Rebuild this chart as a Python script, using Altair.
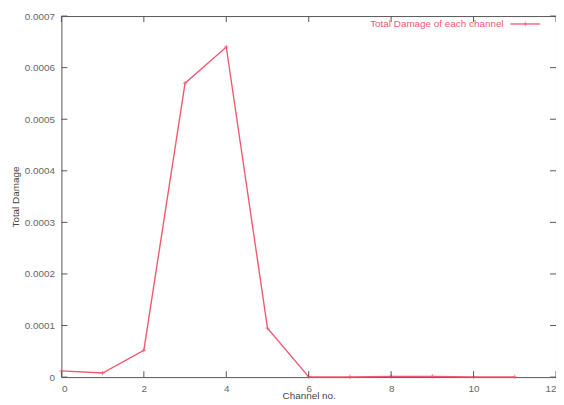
import altair as alt
import pandas as pd

# ---- data ----
channels = [0, 1, 2, 3, 4, 5, 6, 7, 8, 9, 10, 11]
damage = [1.2e-5, 8e-6, 5.2e-5, 5.7e-4, 6.4e-4, 9.5e-5, 5e-7, 5e-7, 1.5e-6, 1.5e-6, 5e-7, 5e-7]
x_ticks = [0, 2, 4, 6, 8, 10, 12]
y_ticks = [0, 0.0001, 0.0002, 0.0003, 0.0004, 0.0005, 0.0006, 0.0007]
series_label = "Total Damage of each channel"
x_title = "Channel no."
y_title = "Total Damage"

RED = "#f05a70"
AXIS = "#555555"
LABEL = "#666666"
FONT = "Liberation Sans"
W, H = 500, 365

df = pd.DataFrame({"channel": channels, "damage": damage})
xt = pd.DataFrame({"channel": x_ticks})
yt = pd.DataFrame({"damage": y_ticks})

xscale = alt.Scale(domain=[0, 12], nice=False, zero=False)
yscale = alt.Scale(domain=[0, 0.0007], nice=False)

xaxis = alt.Axis(values=x_ticks, title=x_title, grid=False, ticks=False,
                 domain=False, labelColor=LABEL, labelFont=FONT, labelFontSize=10,
                 labelPadding=7, titleFont=FONT, titleFontSize=10,
                 titleFontWeight="normal", titleColor="#444444", titlePadding=-3)
yaxis = alt.Axis(values=y_ticks, title=y_title, grid=False, ticks=False,
                 domain=False, labelColor=LABEL, labelFont=FONT, labelFontSize=10,
                 labelPadding=7,
                 labelExpr="datum.value == 0 ? '0' : format(datum.value, '.4f')",
                 titleFont=FONT, titleFontSize=10, titleFontWeight="normal",
                 titleColor="#444444", titlePadding=4)

X = alt.X("channel:Q", scale=xscale, axis=xaxis)
Y = alt.Y("damage:Q", scale=yscale, axis=yaxis)

base = alt.Chart(df)

line = base.mark_line(color=RED, strokeWidth=1.4).encode(x=X, y=Y)

points = base.mark_point(shape="M-1,0L1,0M0,-1L0,1", size=20, filled=False,
                         color=RED, strokeWidth=1).encode(x=X, y=Y)

tick_len = 6
xb = alt.Chart(xt).mark_rule(color=AXIS, strokeWidth=1).encode(
    x=X, y=alt.value(H), y2=alt.value(H - tick_len))
xtop = alt.Chart(xt).mark_rule(color=AXIS, strokeWidth=1).encode(
    x=X, y=alt.value(0), y2=alt.value(tick_len))
yl = alt.Chart(yt).mark_rule(color=AXIS, strokeWidth=1).encode(
    y=Y, x=alt.value(0), x2=alt.value(tick_len))
yr = alt.Chart(yt).mark_rule(color=AXIS, strokeWidth=1).encode(
    y=Y, x=alt.value(W), x2=alt.value(W - tick_len))

# legend (gnuplot style: text then line sample)
leg_df = pd.DataFrame({"label": [series_label]})
leg_text = alt.Chart(leg_df).mark_text(align="right", baseline="middle", font=FONT,
                                       fontSize=10, color=RED).encode(
    text="label:N", x=alt.value(447), y=alt.value(8))
leg_line = alt.Chart(leg_df).mark_rule(color=RED, strokeWidth=1.3).encode(
    x=alt.value(454), x2=alt.value(484), y=alt.value(8))
leg_pt = alt.Chart(leg_df).mark_point(shape="M-1,0L1,0M0,-1L0,1", size=20, filled=False,
                                      color=RED, strokeWidth=1).encode(
    x=alt.value(469), y=alt.value(8))

chart = alt.layer(line, points, xb, xtop, yl, yr, leg_text, leg_line, leg_pt).properties(
    width=W, height=H,
    autosize=alt.AutoSizeParams(type="none"),
    padding={"left": 54, "top": 6, "right": 0, "bottom": 22},
    background="white",
).configure_view(stroke=AXIS, strokeWidth=1)

chart.save("out.html", embed_options={"renderer": "svg", "actions": False})
